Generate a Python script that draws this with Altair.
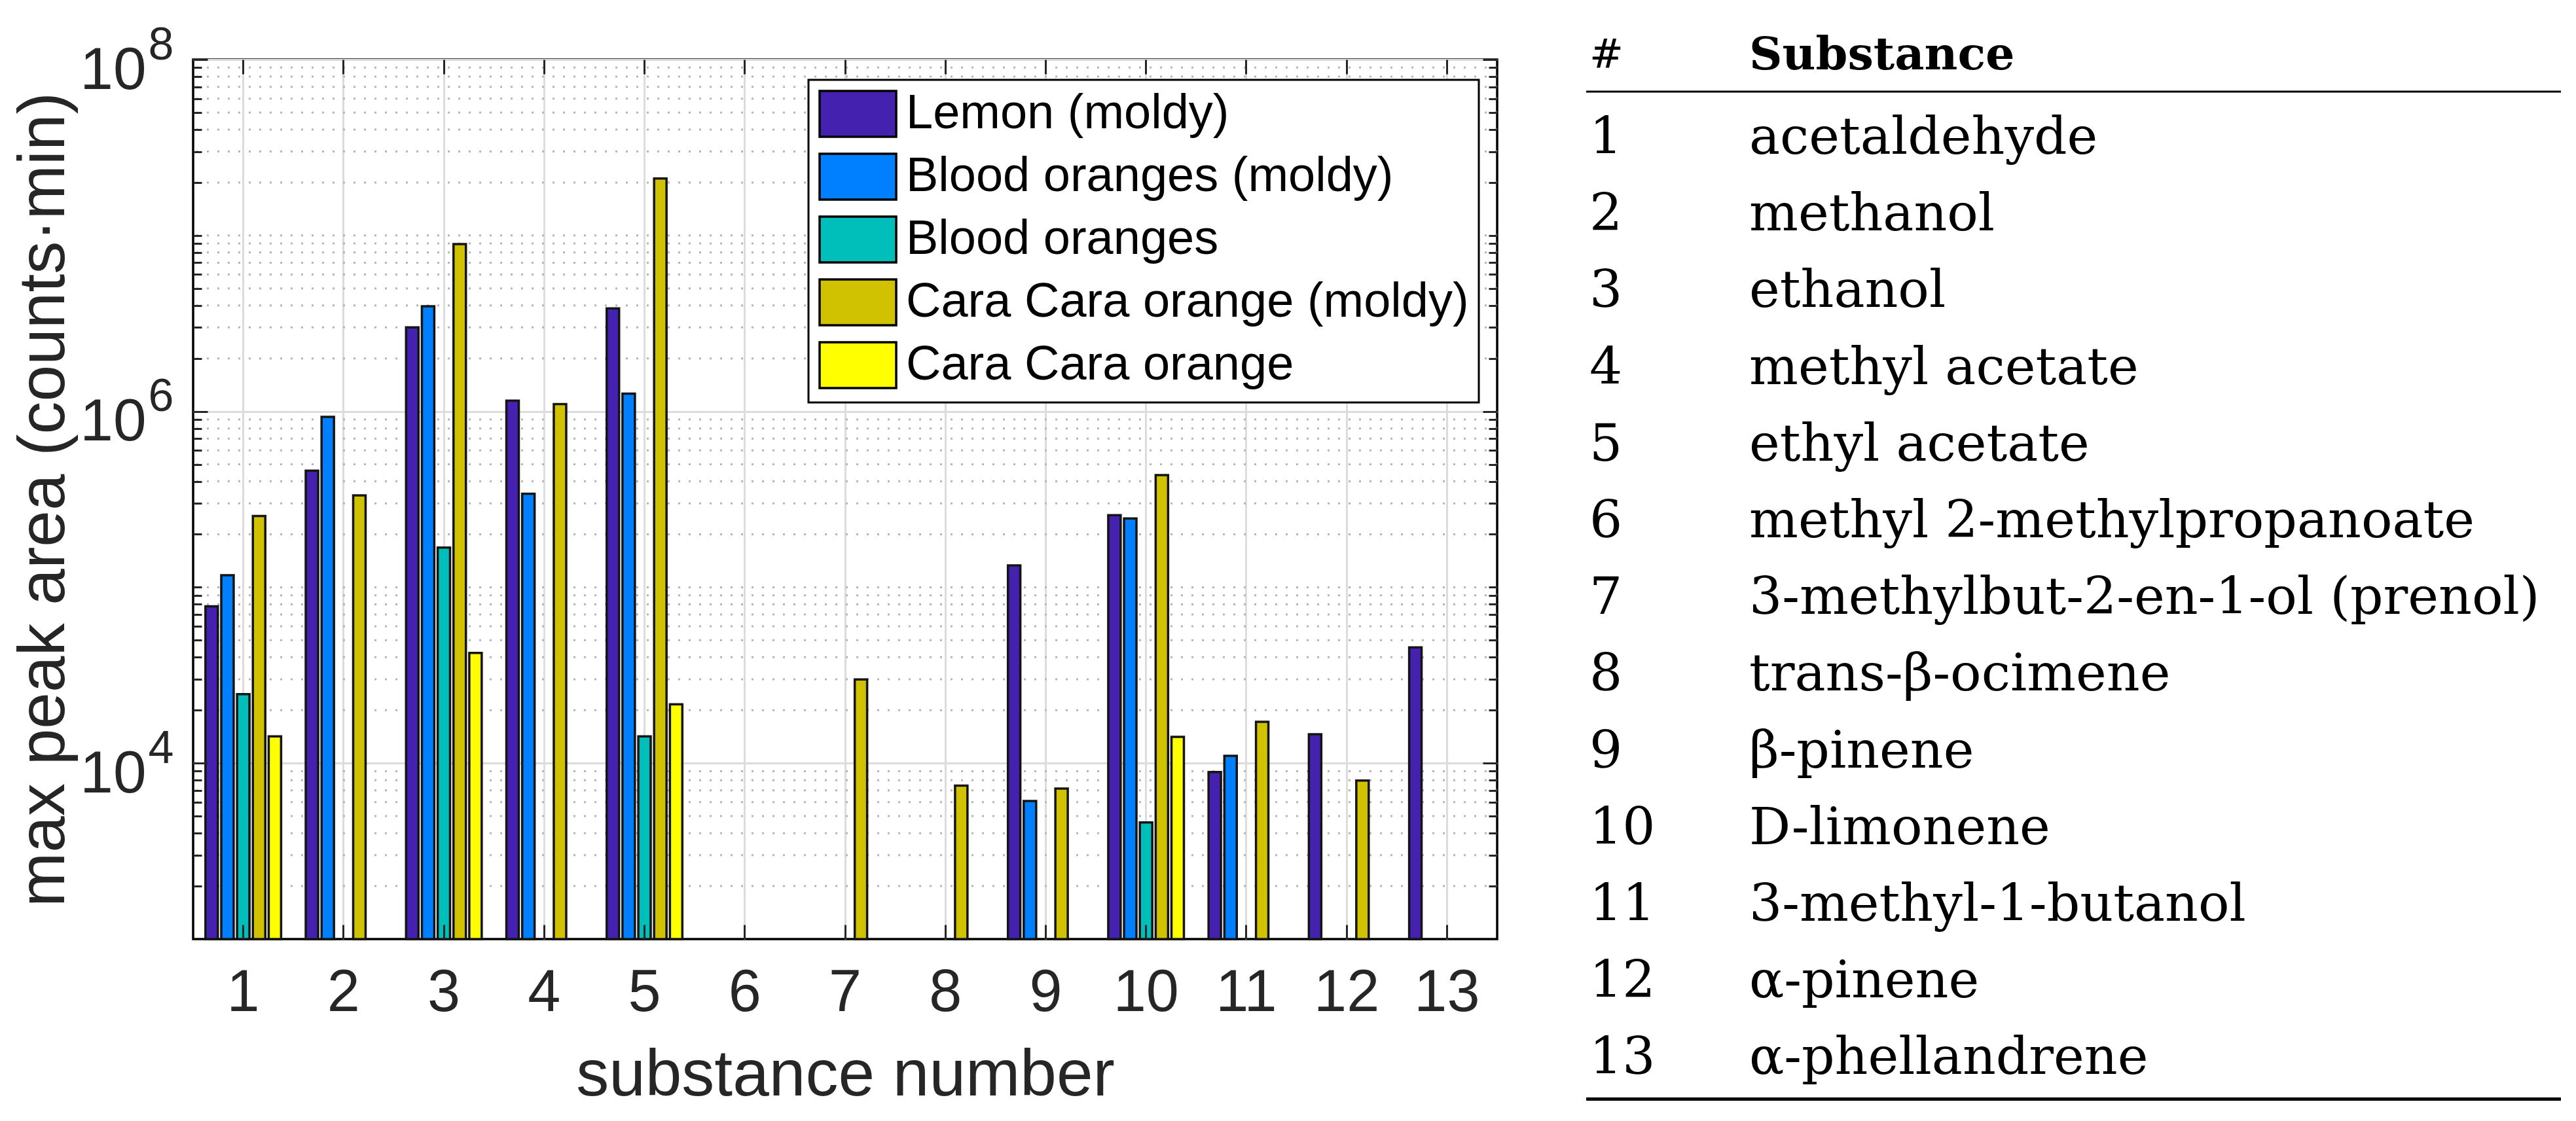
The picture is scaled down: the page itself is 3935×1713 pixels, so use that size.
import altair as alt
import pandas as pd

# ---------------- data ----------------
substances = list(range(1, 14))
series = ["Lemon (moldy)", "Blood oranges (moldy)", "Blood oranges",
          "Cara Cara orange (moldy)", "Cara Cara orange"]
colors = ["#4421AF", "#0080FF", "#00BFBA", "#D0C200", "#FFFF00"]

# max peak area (counts*min); None = not detected
lemon_moldy = [7.8e4, 4.6e5, 3.0e6, 1.15e6, 3.85e6, None, None, None, 1.33e5, 2.57e5, 8.9e3, 1.46e4, 4.55e4]
blood_moldy = [1.17e5, 9.3e5, 3.96e6, 3.4e5, 1.26e6, None, None, None, 6.1e3, 2.46e5, 1.1e4, None, None]
blood = [2.47e4, None, 1.68e5, None, 1.42e4, None, None, None, None, 4.6e3, None, None, None]
cara_moldy = [2.54e5, 3.33e5, 8.93e6, 1.1e6, 2.11e7, None, 2.99e4, 7.46e3, 7.17e3, 4.34e5, 1.72e4, 7.96e3, None]
cara = [1.42e4, None, 4.23e4, None, 2.16e4, None, None, None, None, 1.41e4, None, None, None]

y_major = [1e4, 1e6, 1e8]
y_major_base = ["10", "10", "10"]
y_major_exp = ["4", "6", "8"]
y_minor = [k * 10.0 ** d for d in range(3, 8) for k in range(2, 10)] + [1e5, 1e7]

substance_names = ["acetaldehyde", "methanol", "ethanol", "methyl acetate", "ethyl acetate",
                   "methyl 2-methylpropanoate", "3-methylbut-2-en-1-ol (prenol)",
                   "trans-β-ocimene", "β-pinene", "D-limonene", "3-methyl-1-butanol",
                   "α-pinene", "α-phellandrene"]
table_header = ["#", "Substance"]

# ---------------- layout / styles ----------------
SANS = "Liberation Sans"
SERIF = "DejaVu Serif"
TXT = "#262626"
GRID = "#dcdcdc"
PW, PH = 1992, 1344
TABLE_X0, TABLE_W = 2128, 1489          # table placement relative to plot area
COL_NUM, COL_NAME = 5, 249              # column offsets inside table
ROW1_Y, ROW_STEP = 120, 117.2           # first body row centre and row pitch
HEAD_ROW, RULE_TOP_ROW, RULE_BOT_ROW = 0, 0.394, 13.53


def label_expr(vals, labs):
    expr = "''"
    for v, l in zip(reversed(vals), reversed(labs)):
        expr = f"datum.value == {v!r} ? '{l}' : {expr}"
    return expr


rows = []
for s, vals in zip(series, [lemon_moldy, blood_moldy, blood, cara_moldy, cara]):
    for n, v in zip(substances, vals):
        if v is not None:
            rows.append({"num": n, "series": s, "value": v})
bar_df = pd.DataFrame(rows)
minor_df = pd.DataFrame({"v": y_minor})
major_df = pd.DataFrame({"v": y_major})
num_df = pd.DataFrame({"num": substances})

yscale = alt.Scale(type="log", domain=[1e3, 1e8], nice=False)
xscale = alt.Scale(domain=substances, paddingInner=0, paddingOuter=0)

tick_common = dict(labels=False, domain=False, grid=False, title=None,
                   tickColor=TXT, tickWidth=3, zindex=1)

minor_l = alt.Chart(minor_df).mark_rule(color="#b5b5b5", strokeWidth=3, strokeDash=[3, 13]).encode(
    y=alt.Y("v:Q", scale=yscale,
            axis=alt.Axis(orient="left", values=y_minor, tickSize=13, offset=-13, **tick_common)))
minor_r = alt.Chart(minor_df).mark_rule(strokeOpacity=0).encode(
    y=alt.Y("v:Q", scale=yscale,
            axis=alt.Axis(orient="right", values=y_minor, tickSize=13, offset=-13, **tick_common)))
major_r = alt.Chart(major_df).mark_rule(strokeOpacity=0).encode(
    y=alt.Y("v:Q", scale=yscale,
            axis=alt.Axis(orient="right", values=y_major, tickSize=22, offset=-22, **tick_common)))
exp_l = alt.Chart(major_df).mark_rule(strokeOpacity=0).encode(
    y=alt.Y("v:Q", scale=yscale,
            axis=alt.Axis(orient="left", values=y_major, tickSize=22, offset=-22,
                          labels=True, labelExpr=label_expr(y_major, y_major_exp),
                          labelFont=SANS, labelFontSize=70, labelColor=TXT,
                          labelPadding=30, labelOffset=-22, labelFlush=False,
                          labelOverlap=False,
                          domain=False, grid=False, title=None,
                          tickColor=TXT, tickWidth=3, zindex=1)))
top_t = alt.Chart(num_df).mark_rule(strokeOpacity=0).encode(
    x=alt.X("num:O", scale=xscale,
            axis=alt.Axis(orient="top", tickSize=22, offset=-22, **tick_common)))
bot_t = alt.Chart(num_df).mark_rule(strokeOpacity=0).encode(
    x=alt.X("num:O", scale=xscale,
            axis=alt.Axis(orient="bottom", tickSize=22, offset=-22, **tick_common)))

bars = alt.Chart(bar_df).mark_bar(stroke="#141414", strokeWidth=3.5).encode(
    x=alt.X("num:O", scale=xscale,
            axis=alt.Axis(orient="bottom", labelAngle=0, labelFont=SANS, labelFontSize=90,
                          labelColor=TXT, labelPadding=38, ticks=False, tickSize=0,
                          domain=False, grid=True, gridColor=GRID, gridWidth=3,
                          title="substance number", titleFont=SANS, titleFontSize=100,
                          titleFontWeight="normal", titleColor=TXT, titlePadding=32)),
    xOffset=alt.XOffset("series:N", scale=alt.Scale(domain=series, paddingInner=0.215, paddingOuter=0.78)),
    y=alt.Y("value:Q", scale=yscale,
            axis=alt.Axis(orient="left", values=y_major, labelExpr=label_expr(y_major, y_major_base),
                          labelFont=SANS, labelFontSize=91, labelColor=TXT, labelPadding=72,
                          labelOffset=17, labelFlush=False, labelOverlap=False,
                          ticks=False, tickSize=0, domain=False, grid=True,
                          gridColor=GRID, gridWidth=3,
                          title="max peak area (counts·min)", titleFont=SANS, titleFontSize=100,
                          titleFontWeight="normal", titleColor=TXT, titlePadding=3)),
    y2=alt.datum(1000),
    color=alt.Color("series:N", scale=alt.Scale(domain=series, range=colors),
                    legend=alt.Legend(title=None, orient="none", legendX=940, legendY=31,
                                      direction="vertical", symbolType="M-1,-1H2.343V1H-1Z",
                                      symbolSize=4900, symbolStrokeColor="black",
                                      symbolStrokeWidth=3.5, symbolOpacity=1,
                                      labelFont=SANS, labelFontSize=74, labelColor="black",
                                      labelOffset=60, labelLimit=3000, rowPadding=12,
                                      padding=15, strokeColor="black", fillColor="white")),
)

plot = alt.layer(minor_l, minor_r, major_r, exp_l, top_t, bot_t, bars).resolve_axis(
    x="independent", y="independent")

# ---------------- table (drawn beside the plot through its own scales) ----------------
cells = []
for r, name in zip(substances, substance_names):
    cells.append({"row": r, "pos": COL_NUM, "txt": str(r)})
    cells.append({"row": r, "pos": COL_NAME, "txt": name})
cell_df = pd.DataFrame(cells)
head_num_df = pd.DataFrame({"row": [HEAD_ROW], "pos": [COL_NUM], "txt": [table_header[0]]})
head_name_df = pd.DataFrame({"row": [HEAD_ROW], "pos": [COL_NAME], "txt": [table_header[1]]})
rule_df = pd.DataFrame({"row": [RULE_TOP_ROW, RULE_BOT_ROW], "x0": [0, 0], "x1": [TABLE_W, TABLE_W]})

tx = alt.Scale(domain=[0, TABLE_W], range=[TABLE_X0, TABLE_X0 + TABLE_W], nice=False, zero=False)
ty = alt.Scale(domain=[1, 13], range=[ROW1_Y, ROW1_Y + 12 * ROW_STEP], nice=False, zero=False)

body = alt.Chart(cell_df).mark_text(align="left", baseline="middle", font=SERIF,
                                    fontSize=79, color="black").encode(
    x=alt.X("pos:Q", scale=tx, axis=None),
    y=alt.Y("row:Q", scale=ty, axis=None),
    text="txt:N")
head_num = alt.Chart(head_num_df).mark_text(align="left", baseline="middle", font=SERIF,
                                            fontSize=62, color="black", dy=-9).encode(
    x=alt.X("pos:Q", scale=tx, axis=None),
    y=alt.Y("row:Q", scale=ty, axis=None),
    text="txt:N")
head_name = alt.Chart(head_name_df).mark_text(align="left", baseline="middle", font=SERIF,
                                              fontSize=70, fontWeight="bold", color="black",
                                              dy=-9).encode(
    x=alt.X("pos:Q", scale=tx, axis=None),
    y=alt.Y("row:Q", scale=ty, axis=None),
    text="txt:N")
rule_top = alt.Chart(rule_df.iloc[[0]]).mark_rule(color="black", strokeWidth=3).encode(
    x=alt.X("x0:Q", scale=tx, axis=None), x2="x1:Q",
    y=alt.Y("row:Q", scale=ty, axis=None))
rule_bot = alt.Chart(rule_df.iloc[[1]]).mark_rule(color="black", strokeWidth=5).encode(
    x=alt.X("x0:Q", scale=tx, axis=None), x2="x1:Q",
    y=alt.Y("row:Q", scale=ty, axis=None))

table = alt.layer(rule_top, rule_bot, head_num, head_name, body)

chart = alt.layer(plot, table).resolve_scale(
    x="independent", y="independent"
).resolve_axis(
    x="independent", y="independent"
).properties(
    width=PW, height=PH,
    view=alt.ViewBackground(stroke="black", strokeWidth=3.5),
    padding={"left": 9, "top": 26, "right": 5, "bottom": 5},
    background="white",
).configure_legend(strokeWidth=3)

chart.save("out.html", embed_options={"renderer": "svg", "actions": False})
